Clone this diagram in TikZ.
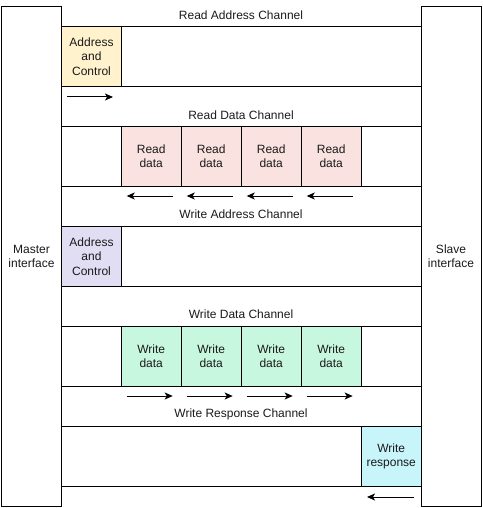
\documentclass[tikz,border=0pt]{standalone}
\usepackage{fontspec}
\setmainfont{Liberation Sans}
\usetikzlibrary{arrows.meta}
\definecolor{addrY}{HTML}{FFF2CC}
\definecolor{addrP}{HTML}{E1DEF3}
\definecolor{rdata}{HTML}{F9E2E0}
\definecolor{wdata}{HTML}{C8F7DF}
\definecolor{wresp}{HTML}{C8F5FA}
\definecolor{txt}{HTML}{1A1A1A}
\begin{document}
\begin{tikzpicture}[x=1pt,y=-1pt,
  txtfont/.style={font=\fontsize{12}{14.4}\selectfont, text=txt},
  box/.style={draw, line width=1pt, minimum width=60pt, minimum height=60pt,
    inner sep=0pt, align=center, anchor=north west, txtfont},
  iface/.style={box, minimum height=500pt},
  chan/.style={box, minimum width=360pt},
  lbl/.style={txtfont, inner sep=0pt},
  arr/.style={line width=1pt, -{Stealth[length=8pt,width=7pt,inset=2pt]}}]
\useasboundingbox (0,0) rectangle (482,508);

% interfaces
\node[iface] (master) at (1,6) {Master\\interface};
\node[iface] (slave) at (420.5,6) {Slave\\interface};

% channels
\node[chan] (rach) at (61,26) {};
\node[chan] (rdch) at (61,126) {};
\node[chan] (wach) at (61,226) {};
\node[chan] (wdch) at (61,326) {};
\node[chan] (wrch) at (61,426) {};

% channel labels
\node[lbl] (lrach) at (241,15) {Read Address Channel};
\node[lbl] (lrdch) at (241,115) {Read Data Channel};
\node[lbl] (lwach) at (241,214) {Write Address Channel};
\node[lbl] (lwdch) at (241,314) {Write Data Channel};
\node[lbl] (lwrch) at (241,414) {Write Response Channel};

% read address
\node[box, fill=addrY] (ra) at (61,26) {Address\\and\\Control};
\coordinate (ras) at (67,97);
\coordinate (rae) at (113,97);
\draw[arr] (ras) -- (rae);

% read data
\foreach \i/\x in {1/120.7,2/180.7,3/240.7,4/300.7}{
  \node[box, fill=rdata] (rd\i) at (\x,126) {Read\\data};
  \coordinate (rds\i) at (\x+52,196);
  \coordinate (rde\i) at (\x+6,196);
  \draw[arr] (rds\i) -- (rde\i);
}

% write address
\node[box, fill=addrP] (wa) at (61,226) {Address\\and\\Control};

% write data
\foreach \i/\x in {1/120.7,2/180.7,3/240.7,4/300.7}{
  \node[box, fill=wdata] (wd\i) at (\x,326) {Write\\data};
  \coordinate (wds\i) at (\x+6,396);
  \coordinate (wde\i) at (\x+52,396);
  \draw[arr] (wds\i) -- (wde\i);
}

% write response
\node[box, fill=wresp] (wr) at (360.7,426) {Write\\response};
\coordinate (wrs) at (414,497);
\coordinate (wre) at (367,497);
\draw[arr] (wrs) -- (wre);
\end{tikzpicture}
\end{document}
